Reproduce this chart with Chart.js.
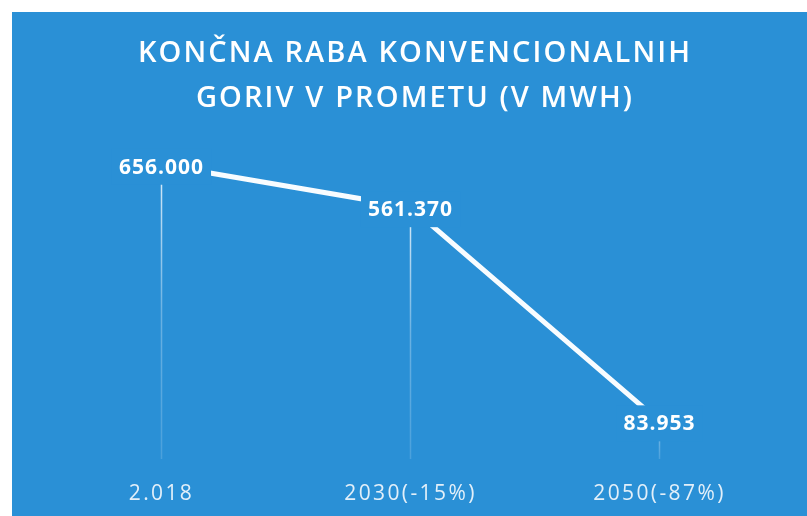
<!DOCTYPE html>
<html>
<head>
<meta charset="utf-8">
<script src="https://cdn.jsdelivr.net/npm/chart.js@4.4.1/dist/chart.umd.min.js"></script>
<style>
  html, body { margin: 0; padding: 0; background: #ffffff; }
  #wrap { width: 807px; height: 516px; position: relative; }
</style>
</head>
<body>
<div id="wrap"><canvas id="chart"></canvas></div>
<script>
// Final consumption of conventional fuels in transport (MWh)
const titleLines = ['KONČNA RABA KONVENCIONALNIH', 'GORIV V PROMETU (V MWH)'];
const categories = ['2.018', '2030(-15%)', '2050(-87%)'];
const consumption = [656000, 561370, 83953];

const slideBlue = 'rgb(42, 144, 214)';

// thousands separated with dots, e.g. 656.000
function formatValue(v) {
  return String(v).replace(/\B(?=(\d{3})+(?!\d))/g, '.');
}

// slide background: white margin top/left, blue panel
const slideBackground = {
  id: 'slideBackground',
  beforeDraw(chart) {
    const ctx = chart.ctx;
    ctx.save();
    ctx.fillStyle = '#ffffff';
    ctx.fillRect(0, 0, chart.width, chart.height);
    ctx.fillStyle = slideBlue;
    ctx.fillRect(12, 12, chart.width - 12, chart.height - 12);
    ctx.restore();
    // spaced lettering for the axis labels
    ctx.letterSpacing = '2.4px';
  },
  beforeDatasetsDraw(chart) {
    chart.ctx.letterSpacing = '0px';
  }
};

// two-line slide title
const slideTitle = {
  id: 'slideTitle',
  afterDraw(chart) {
    const ctx = chart.ctx;
    ctx.save();
    ctx.fillStyle = '#ffffff';
    ctx.font = '600 29px "Open Sans"';
    ctx.letterSpacing = '2.1px';
    ctx.textAlign = 'center';
    ctx.textBaseline = 'middle';
    titleLines.forEach((line, i) => {
      ctx.fillText(line, 415, 54 + i * 45);
    });
    ctx.restore();
  }
};

// thin drop lines from each point down to the baseline
const dropLines = {
  id: 'dropLines',
  beforeDatasetsDraw(chart) {
    const ctx = chart.ctx;
    const meta = chart.getDatasetMeta(0);
    const base = chart.scales.y.getPixelForValue(0);
    ctx.save();
    ctx.lineWidth = 1.5;
    meta.data.forEach(pt => {
      const g = ctx.createLinearGradient(0, pt.y, 0, base);
      g.addColorStop(0, 'rgba(255,255,255,0.85)');
      g.addColorStop(0.5, 'rgba(255,255,255,0.3)');
      g.addColorStop(1, 'rgba(255,255,255,0.15)');
      ctx.strokeStyle = g;
      ctx.beginPath();
      ctx.moveTo(pt.x, pt.y);
      ctx.lineTo(pt.x, base);
      ctx.stroke();
    });
    ctx.restore();
  }
};

// value labels sitting on the points, masking the line underneath
const valueLabels = {
  id: 'valueLabels',
  afterDatasetsDraw(chart) {
    const ctx = chart.ctx;
    const meta = chart.getDatasetMeta(0);
    ctx.save();
    ctx.font = 'bold 21px "Open Sans"';
    ctx.letterSpacing = '1px';
    ctx.textAlign = 'center';
    ctx.textBaseline = 'middle';
    meta.data.forEach((pt, i) => {
      const text = formatValue(consumption[i]);
      const w = ctx.measureText(text).width + 14;
      const h = 36;
      ctx.fillStyle = slideBlue;
      ctx.fillRect(pt.x - w / 2, pt.y + 2 - h / 2, w, h);
      ctx.fillStyle = '#ffffff';
      ctx.fillText(text, pt.x, pt.y + 3);
    });
    ctx.restore();
  }
};

new Chart(document.getElementById('chart'), {
  type: 'line',
  data: {
    labels: categories,
    datasets: [{
      data: consumption,
      borderColor: 'rgb(248, 252, 255)',
      borderWidth: 5,
      pointRadius: 0,
      pointHoverRadius: 0,
      tension: 0,
      fill: false
    }]
  },
  options: {
    responsive: true,
    maintainAspectRatio: false,
    animation: false,
    events: [],
    layout: { padding: { top: 145, left: 37, right: 23, bottom: 11 } },
    plugins: {
      legend: { display: false },
      title: { display: false },
      tooltip: { enabled: false }
    },
    scales: {
      x: {
        offset: true,
        grid: { display: false, drawTicks: false },
        border: { display: false },
        afterFit(scale) { scale.height = 46; },
        ticks: {
          color: 'rgb(226, 239, 249)',
          font: { family: '"Open Sans"', size: 21, weight: '400' },
          padding: 22,
          maxRotation: 0,
          autoSkip: false
        }
      },
      y: {
        display: false,
        min: 0,
        max: 700000
      }
    }
  },
  plugins: [slideBackground, dropLines, valueLabels, slideTitle]
});
</script>
</body>
</html>
